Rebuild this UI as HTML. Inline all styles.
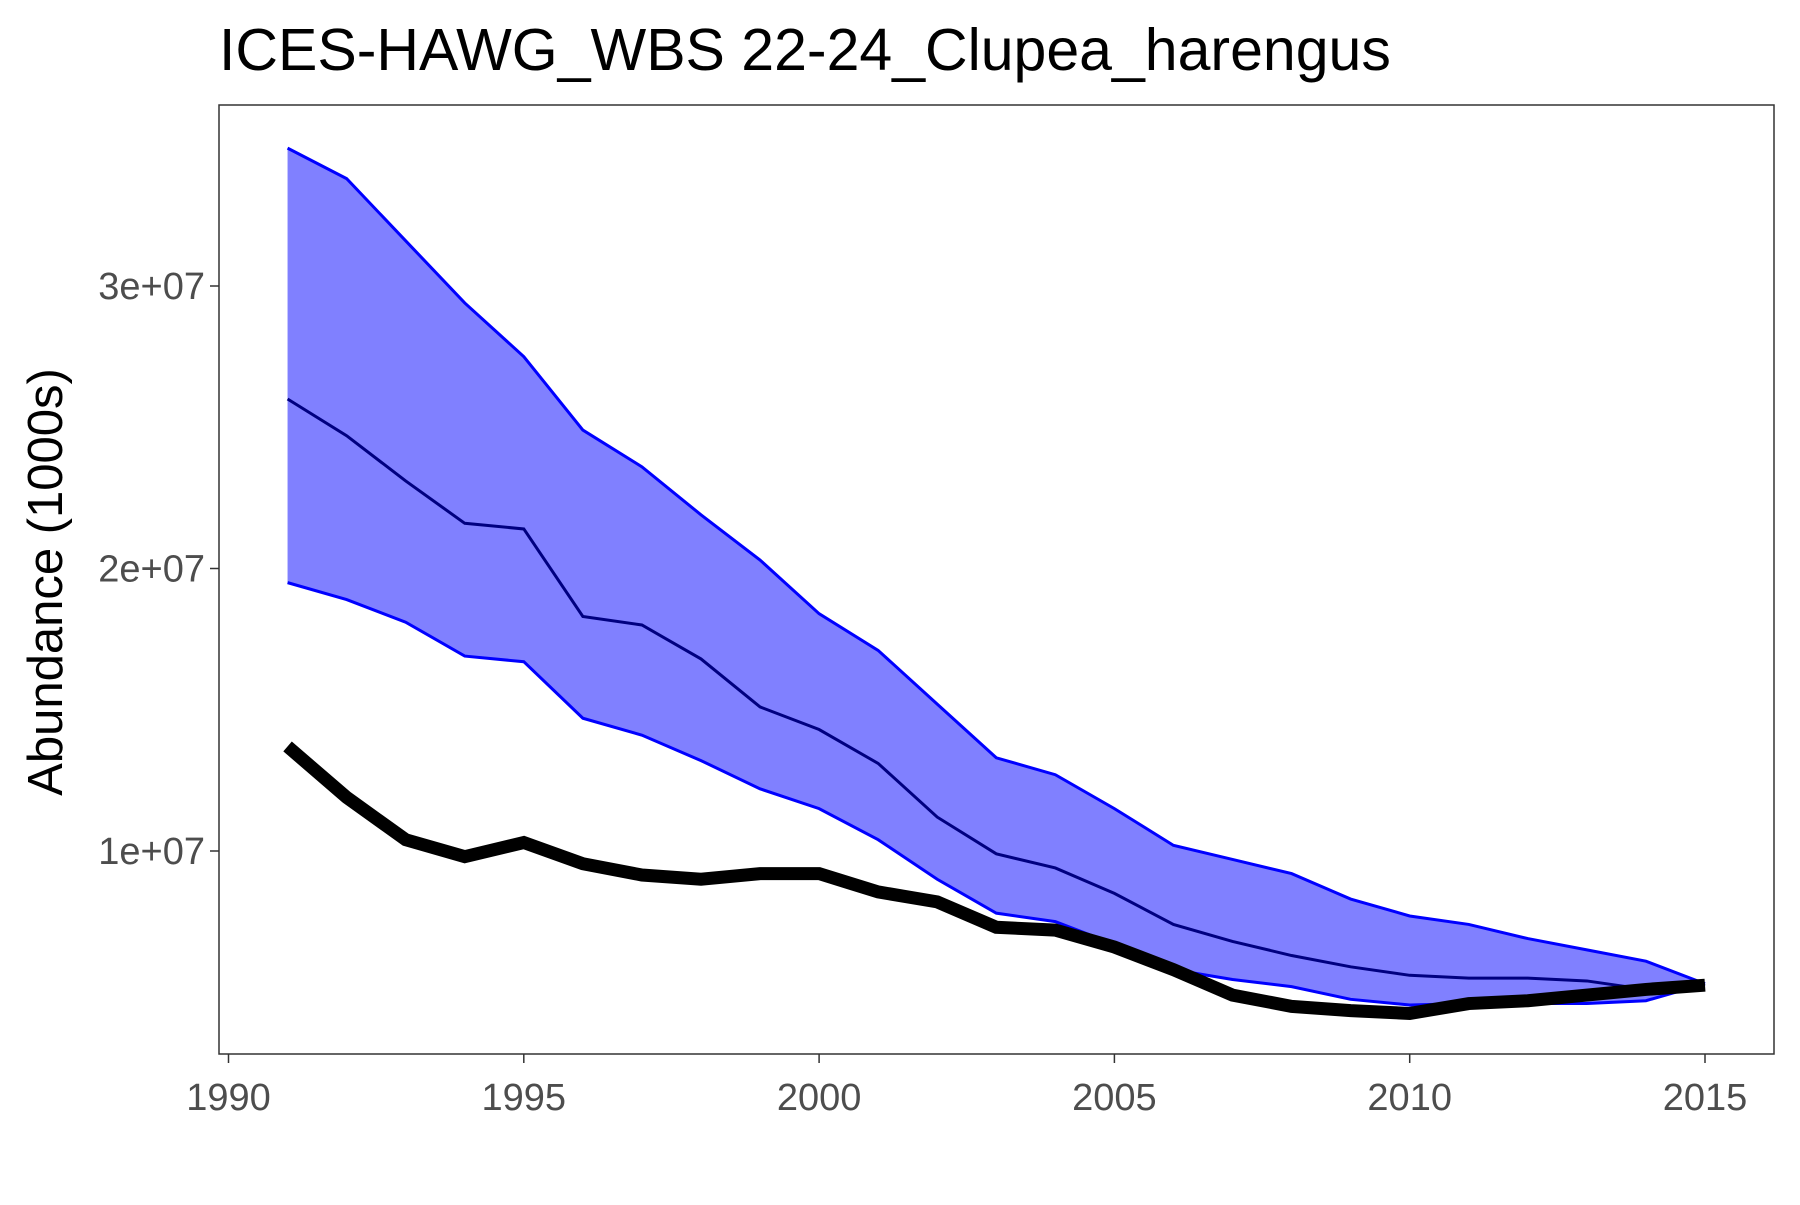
<!DOCTYPE html>
<html><head><meta charset="utf-8"><style>
body{margin:0;background:#fff}
svg text{font-family:"Liberation Sans",sans-serif}
</style></head><body>
<svg id="chart" width="1800" height="1200" xmlns="http://www.w3.org/2000/svg">
<rect width="1800" height="1200" fill="#fff"/>
<text x="219" y="70" font-size="59" fill="#000">ICES-HAWG_WBS 22-24_Clupea_harengus</text>
<g id="plot"></g>
<rect x="219" y="105" width="1555" height="949" fill="none" stroke="#333" stroke-width="1.5"/>
<text transform="translate(62,582) rotate(-90)" text-anchor="middle" font-size="49" fill="#000">Abundance (1000s)</text>
</svg>
<script>
const years=[1991,1992,1993,1994,1995,1996,1997,1998,1999,2000,2001,2002,2003,2004,2005,2006,2007,2008,2009,2010,2011,2012,2013,2014,2015];
const upper=[3.488,3.38,3.16,2.94,2.75,2.49,2.36,2.19,2.03,1.84,1.71,1.52,1.33,1.27,1.15,1.02,0.97,0.92,0.83,0.77,0.74,0.69,0.65,0.61,0.53];
const median=[2.60,2.47,2.31,2.16,2.14,1.83,1.80,1.68,1.51,1.43,1.31,1.12,0.99,0.94,0.85,0.74,0.68,0.63,0.59,0.56,0.55,0.55,0.54,0.51,0.53];
const lower=[1.95,1.89,1.81,1.69,1.67,1.47,1.41,1.32,1.22,1.15,1.04,0.90,0.78,0.75,0.67,0.58,0.545,0.52,0.475,0.455,0.46,0.46,0.46,0.47,0.53];
const observed=[1.37,1.19,1.04,0.98,1.03,0.955,0.915,0.90,0.92,0.92,0.855,0.82,0.73,0.72,0.66,0.58,0.49,0.45,0.435,0.425,0.46,0.47,0.49,0.51,0.525];
const xTicks=[1990,1995,2000,2005,2010,2015];
const yTicks=[1,2,3];
const yTickLabels=["1e+07","2e+07","3e+07"];
const xs=y=>228.5+(y-1990)*(1705-228.5)/25;
const ys=v=>1133.5-v*282.5;
const NS="http://www.w3.org/2000/svg";
const g=document.getElementById('plot');
function mk(t,a){const e=document.createElementNS(NS,t);for(const k in a)e.setAttribute(k,a[k]);g.appendChild(e);return e;}
const pts=a=>a.map((v,i)=>xs(years[i])+','+ys(v)).join(' ');
let e=mk('polygon',{points:pts(upper)+' '+lower.map((v,i)=>xs(years[i])+','+ys(v)).reverse().join(' '),fill:'#8080ff',stroke:'none'});


e=mk('polyline',{points:pts(upper),fill:'none',stroke:'#0000ff','stroke-width':3});


e=mk('polyline',{points:pts(lower),fill:'none',stroke:'#0000ff','stroke-width':3});


e=mk('polyline',{points:pts(median),fill:'none',stroke:'#000080','stroke-width':3});


e=mk('polyline',{points:pts(observed),fill:'none',stroke:'#000','stroke-width':13,'stroke-linejoin':'miter'});


xTicks.forEach(t=>{
 const x=xs(t);
 let l=mk('line',{x1:x,x2:x,y1:1054,y2:1063,stroke:'#333','stroke-width':1.5});
 
 
 let tx=mk('text',{x:x,y:1110,'text-anchor':'middle','font-size':38,fill:'#4d4d4d'});
 tx.textContent=t;
 
 
});
yTicks.forEach((t,i)=>{
 const y=ys(t);
 let l=mk('line',{x1:210,x2:219,y1:y,y2:y,stroke:'#333','stroke-width':1.5});
 
 
 let tx=mk('text',{x:205,y:y+13,'text-anchor':'end','font-size':38,fill:'#4d4d4d'});
 tx.textContent=yTickLabels[i];
 
 
});
</script>
</body></html>
